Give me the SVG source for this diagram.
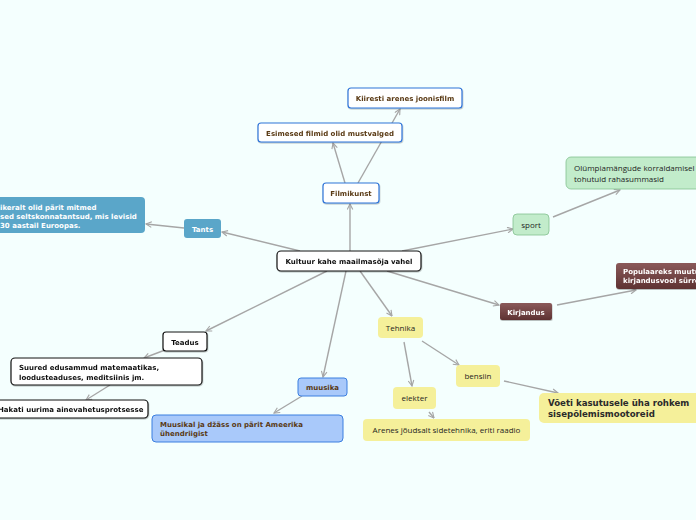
<svg xmlns="http://www.w3.org/2000/svg" width="696" height="520" viewBox="0 0 696 520">
<defs>
<marker id="ar" viewBox="0 0 10 10" refX="9" refY="5" markerWidth="7" markerHeight="7" orient="auto" markerUnits="userSpaceOnUse">
<path d="M1,1 L9,5 L1,9" fill="none" stroke="#a6a6a6" stroke-width="1.6"/>
</marker>
<linearGradient id="brown" x1="0" y1="0" x2="0" y2="1">
<stop offset="0" stop-color="#8a5a5a"/><stop offset="1" stop-color="#5e3232"/>
</linearGradient>
<filter id="sh" x="-10%" y="-20%" width="120%" height="150%">
<feDropShadow dx="0.5" dy="1" stdDeviation="0.7" flood-color="#000" flood-opacity="0.25"/>
</filter>
</defs>
<style>
.bg{fill:#f4fffe}
.c line{stroke:#a6a6a6;stroke-width:1.4;marker-end:url(#ar)}
.wb{fill:#fff;stroke:#111;stroke-width:1.2}
.bl{fill:#fff;stroke:#2f74d8;stroke-width:1.2}
.lb{fill:#a9c9fa;stroke:#3b7fe0;stroke-width:1}
.st{fill:#5aa6c9}
.gr{fill:#c2eccb;stroke:#84c291;stroke-width:0.8}
.ye{fill:#f5f09a}
.br{fill:url(#brown)}
text{font-family:"DejaVu Sans",Verdana,sans-serif;font-size:7px}
.b{font-weight:bold}
.k{fill:#111}
.d{fill:#5a3a14}
.w{fill:#fff}
.n{font-family:"Open Sans","Noto Sans",sans-serif;font-size:8px;fill:#1e1e1e}
.big{font-family:"DejaVu Sans",sans-serif;font-size:8.6px;font-weight:bold;fill:#2a2a2a}
.m{text-anchor:middle}
</style>
<rect class="bg" x="0" y="0" width="696" height="520"/>
<g class="c">
<line x1="300" y1="251" x2="222" y2="232"/>
<line x1="350" y1="251" x2="350" y2="204"/>
<line x1="402" y1="251" x2="513" y2="229"/>
<line x1="387" y1="271" x2="499" y2="305"/>
<line x1="360" y1="271" x2="392" y2="316"/>
<line x1="346" y1="271" x2="323" y2="377"/>
<line x1="327" y1="271" x2="206" y2="331"/>
<line x1="345" y1="183" x2="333" y2="143"/>
<line x1="358" y1="183" x2="400" y2="109"/>
<line x1="184" y1="228" x2="146" y2="224"/>
<line x1="553" y1="217" x2="620" y2="190"/>
<line x1="557" y1="305" x2="636" y2="290"/>
<line x1="165" y1="350" x2="144" y2="358"/>
<line x1="110" y1="385" x2="86" y2="400"/>
<line x1="302" y1="396" x2="274" y2="413"/>
<line x1="404" y1="342" x2="412" y2="386"/>
<line x1="422" y1="341" x2="459" y2="365"/>
<line x1="429" y1="412" x2="434" y2="418"/>
<line x1="504" y1="381" x2="558" y2="393"/>
</g>
<g id="center" filter="url(#sh)"><rect class="wb" x="277" y="251" width="144" height="20" rx="4"/><text class="b k m" x="349" y="264">Kultuur kahe maailmasõja vahel</text></g>
<g id="filmikunst" filter="url(#sh)"><rect class="bl" x="323" y="183" width="56" height="20" rx="3"/><text class="b d m" x="351" y="196">Filmikunst</text></g>
<g id="esimesed" filter="url(#sh)"><rect class="bl" x="258" y="123" width="144" height="19" rx="3"/><text class="b d m" x="330" y="136">Esimesed filmid olid mustvalged</text></g>
<g id="kiiresti" filter="url(#sh)"><rect class="bl" x="348" y="88" width="114" height="20" rx="3"/><text class="b d m" x="405" y="101">Kiiresti arenes joonisfilm</text></g>
<g id="tants"><rect class="st" x="184" y="219" width="37" height="19" rx="3"/><text class="b w m" x="202.5" y="232">Tants</text></g>
<g id="tantsinfo"><rect class="st" x="-10" y="197" width="155" height="36" rx="4"/><text class="b w" x="0" y="210">ikeralt olid pärit mitmed</text><text class="b w" x="0" y="219">sed seltskonnatantsud, mis levisid</text><text class="b w" x="0" y="228">30 aastail Euroopas.</text></g>
<g id="sport"><rect class="gr" x="513" y="214" width="36" height="21" rx="4"/><text class="n m" x="531" y="228">sport</text></g>
<g id="olympia"><rect class="gr" x="566" y="157" width="140" height="32" rx="5"/><text class="n" x="574" y="171">Olümpiamängude korraldamisel</text><text class="n" x="574" y="182">tohutuid rahasummasid</text></g>
<g id="kirjandus" filter="url(#sh)"><rect class="br" x="500" y="303" width="52" height="17" rx="2"/><text class="b w m" x="526" y="314.5">Kirjandus</text></g>
<g id="populaareks" filter="url(#sh)"><rect class="br" x="616" y="263" width="90" height="26" rx="3"/><text class="b w" x="623" y="274">Populaareks muutus</text><text class="b w" x="623" y="283">kirjandusvool sürrealism</text></g>
<g id="teadus" filter="url(#sh)"><rect class="wb" x="163" y="332" width="44" height="19" rx="3"/><text class="b k m" x="185" y="345">Teadus</text></g>
<g id="suured" filter="url(#sh)"><rect class="wb" x="11" y="358" width="191" height="27" rx="4"/><text class="b k" x="19" y="370">Suured edusammud matemaatikas,</text><text class="b k" x="19" y="380">loodusteaduses, meditsiinis jm.</text></g>
<g id="hakati" filter="url(#sh)"><rect class="wb" x="-10" y="400" width="158" height="18" rx="4"/><text class="b k" x="-2" y="412">Hakati uurima ainevahetusprotsesse</text></g>
<g id="muusika"><rect class="lb" x="298" y="378" width="49" height="18" rx="3"/><text class="b d m" x="322.5" y="390">muusika</text></g>
<g id="muusikal"><rect class="lb" x="152" y="415" width="191" height="27" rx="4"/><text class="b d" x="160" y="427">Muusikal ja džäss on pärit Ameerika</text><text class="b d" x="160" y="436">ühendriigist</text></g>
<g id="tehnika"><rect class="ye" x="378" y="317" width="45" height="21" rx="4"/><text class="n m" x="400.5" y="331">Tehnika</text></g>
<g id="elekter"><rect class="ye" x="393" y="387" width="43" height="22" rx="4"/><text class="n m" x="414.5" y="401">elekter</text></g>
<g id="bensiin"><rect class="ye" x="456" y="365" width="44" height="22" rx="4"/><text class="n m" x="478" y="379">bensiin</text></g>
<g id="arenes"><rect class="ye" x="363" y="419" width="167" height="22" rx="4"/><text class="n m" x="446.5" y="433">Arenes jõudsalt sidetehnika, eriti raadio</text></g>
<g id="voeti"><rect class="ye" x="539" y="393" width="170" height="30" rx="5"/><text class="big" x="548" y="406">Võeti kasutusele üha rohkem</text><text class="big" x="548" y="417">sisepõlemismootoreid</text></g>
</svg>
